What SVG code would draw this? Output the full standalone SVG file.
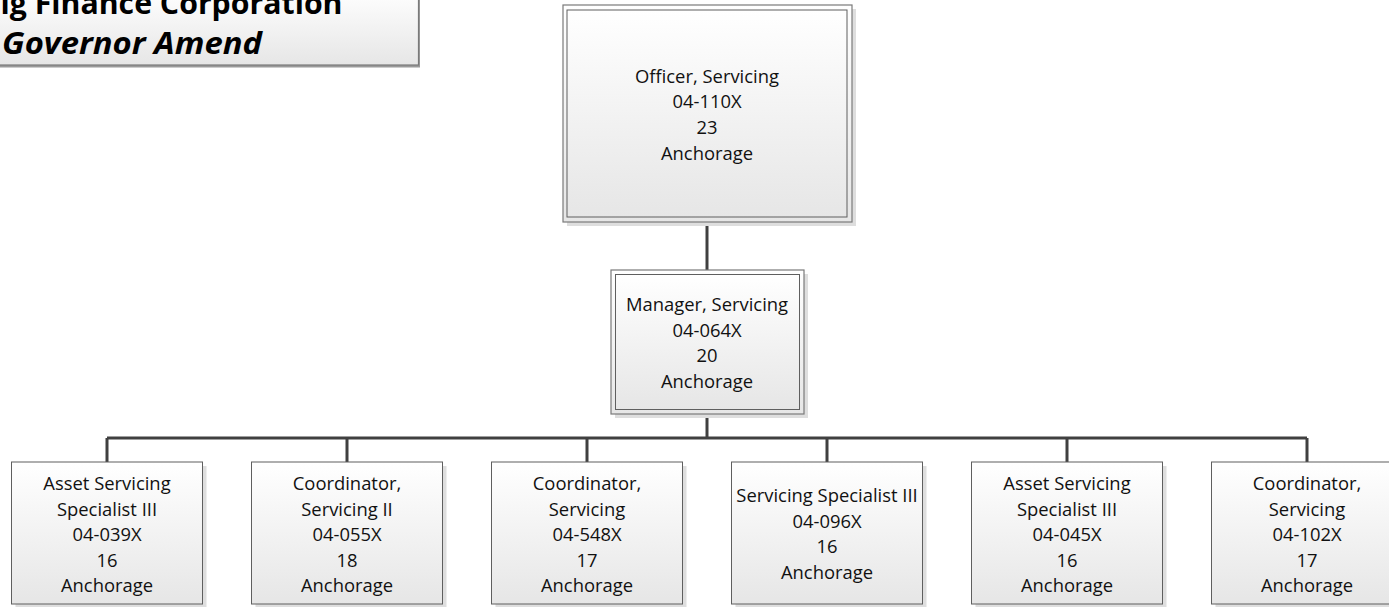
<svg xmlns="http://www.w3.org/2000/svg" width="1389" height="607" viewBox="0 0 1389 607">
<defs>
<linearGradient id="g" x1="0" y1="0" x2="0" y2="1">
<stop offset="0" stop-color="#ffffff"/>
<stop offset="1" stop-color="#e6e6e6"/>
</linearGradient>
<style>
.box{fill:url(#g);stroke:#5f5f5f;stroke-width:1}
.outer{fill:url(#g);stroke:#7a7a7a;stroke-width:1.2}
.sh{fill:#dedede}
.t{font-family:"Open Sans","Liberation Sans",sans-serif;font-size:18.4px;fill:#111;text-anchor:middle}
.ttl{font-family:"Open Sans","Liberation Sans",sans-serif;font-size:31px;font-weight:bold;fill:#000}
.c{stroke:#404040;stroke-width:3;fill:none}
</style>
</defs>
<rect width="1389" height="607" fill="#ffffff"/>

<g id="title">
<rect x="-10" y="-10" width="430" height="77.5" fill="#9a9a9a"/>
<rect x="-10" y="-10" width="428.5" height="75" fill="url(#g)" stroke="#7a7a7a" stroke-width="1.2"/>
<text class="ttl" x="0.5" y="14" textLength="342" lengthAdjust="spacingAndGlyphs">ig Finance Corporation</text>
<text class="ttl" x="2" y="54" font-style="italic" textLength="260" lengthAdjust="spacingAndGlyphs">Governor Amend</text>
</g>

<g id="connectors">
<path class="c" d="M707 222V270"/>
<path class="c" d="M707 414V438"/>
<path class="c" d="M107 438H1307"/>
<path class="c" d="M107 438V462M347 438V462M587 438V462M827 438V462M1067 438V462M1307 438V462"/>
</g>

<g id="officer">
<rect class="sh" x="567" y="9" width="289" height="217"/>
<rect class="outer" x="563" y="5" width="289" height="217"/>
<rect class="box" x="567" y="10" width="280" height="207"/>
<text class="t" x="707" y="82.5">Officer, Servicing</text>
<text class="t" x="707" y="108.2">04-110X</text>
<text class="t" x="707" y="133.9">23</text>
<text class="t" x="707" y="159.6">Anchorage</text>
</g>

<g id="manager">
<rect class="sh" x="615" y="274" width="193" height="144"/>
<rect class="outer" x="611" y="270" width="193" height="144"/>
<rect class="box" x="615.5" y="274.5" width="184" height="135"/>
<text class="t" x="707" y="311">Manager, Servicing</text>
<text class="t" x="707" y="336.5">04-064X</text>
<text class="t" x="707" y="362">20</text>
<text class="t" x="707" y="387.5">Anchorage</text>
</g>

<g id="n1">
<rect class="sh" x="15.5" y="466" width="191" height="142"/>
<rect class="box" x="11.5" y="462" width="191" height="142"/>
<text class="t" x="107" y="490">Asset Servicing</text>
<text class="t" x="107" y="515.5">Specialist III</text>
<text class="t" x="107" y="541">04-039X</text>
<text class="t" x="107" y="566.5">16</text>
<text class="t" x="107" y="592">Anchorage</text>
</g>

<g id="n2">
<rect class="sh" x="255.5" y="466" width="191" height="142"/>
<rect class="box" x="251.5" y="462" width="191" height="142"/>
<text class="t" x="347" y="490">Coordinator,</text>
<text class="t" x="347" y="515.5">Servicing II</text>
<text class="t" x="347" y="541">04-055X</text>
<text class="t" x="347" y="566.5">18</text>
<text class="t" x="347" y="592">Anchorage</text>
</g>

<g id="n3">
<rect class="sh" x="495.5" y="466" width="191" height="142"/>
<rect class="box" x="491.5" y="462" width="191" height="142"/>
<text class="t" x="587" y="490">Coordinator,</text>
<text class="t" x="587" y="515.5">Servicing</text>
<text class="t" x="587" y="541">04-548X</text>
<text class="t" x="587" y="566.5">17</text>
<text class="t" x="587" y="592">Anchorage</text>
</g>

<g id="n4">
<rect class="sh" x="735.5" y="466" width="191" height="142"/>
<rect class="box" x="731.5" y="462" width="191" height="142"/>
<text class="t" x="827" y="502">Servicing Specialist III</text>
<text class="t" x="827" y="527.5">04-096X</text>
<text class="t" x="827" y="553">16</text>
<text class="t" x="827" y="578.5">Anchorage</text>
</g>

<g id="n5">
<rect class="sh" x="975.5" y="466" width="191" height="142"/>
<rect class="box" x="971.5" y="462" width="191" height="142"/>
<text class="t" x="1067" y="490">Asset Servicing</text>
<text class="t" x="1067" y="515.5">Specialist III</text>
<text class="t" x="1067" y="541">04-045X</text>
<text class="t" x="1067" y="566.5">16</text>
<text class="t" x="1067" y="592">Anchorage</text>
</g>

<g id="n6">
<rect class="sh" x="1215.5" y="466" width="191" height="142"/>
<rect class="box" x="1211.5" y="462" width="191" height="142"/>
<text class="t" x="1307" y="490">Coordinator,</text>
<text class="t" x="1307" y="515.5">Servicing</text>
<text class="t" x="1307" y="541">04-102X</text>
<text class="t" x="1307" y="566.5">17</text>
<text class="t" x="1307" y="592">Anchorage</text>
</g>
</svg>
